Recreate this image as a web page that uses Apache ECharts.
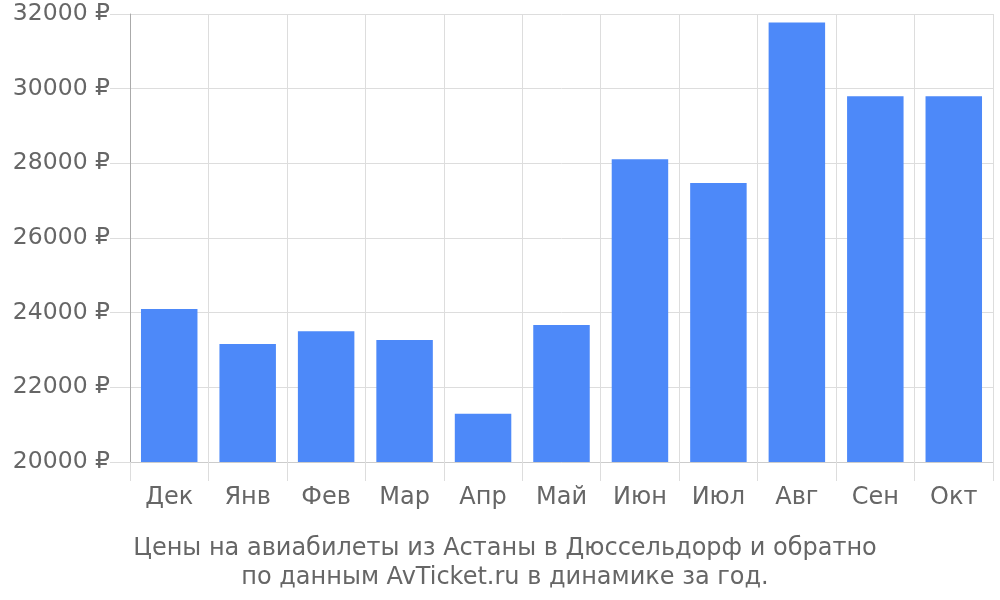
<!DOCTYPE html>
<html><head><meta charset="utf-8">
<script src="https://cdn.jsdelivr.net/npm/echarts@6/dist/echarts.min.js"></script>
<style>html,body{margin:0;padding:0;background:#fff}#c{width:1000px;height:600px}</style>
</head><body><div id="c"></div>
<script>
const categories = ['Дек','Янв','Фев','Мар','Апр','Май','Июн','Июл','Авг','Сен','Окт'];
const prices = [24100, 23160, 23500, 23270, 21290, 23670, 28110, 27470, 31770, 29800, 29800];
const titleLines = ['Цены на авиабилеты из Астаны в Дюссельдорф и обратно','по данным AvTicket.ru в динамике за год.'];
const chart = echarts.init(document.getElementById('c'));
chart.setOption({
  animation:false,
  title:{text:titleLines.join('\n'),left:500,bottom:3,textAlign:'center',
    textStyle:{fontFamily:'DejaVu Sans',fontSize:24,fontWeight:'normal',color:'#666',lineHeight:29}},
  grid:{left:130,right:7,top:14,bottom:138},
  xAxis:{type:'category',data:categories,
    axisLine:{show:true,lineStyle:{color:'#ccc',width:1}},
    axisTick:{show:true,interval:0,length:19,lineStyle:{color:'#ddd'}},
    splitLine:{show:true,interval:0,lineStyle:{color:'#ddd'}},
    axisLabel:{interval:0,margin:24,fontFamily:'DejaVu Sans',fontSize:24,color:'#666'}},
  yAxis:{type:'value',min:20000,max:32000,interval:2000,
    axisLine:{show:true,lineStyle:{color:'#aaa'}},
    axisTick:{show:true,length:20,lineStyle:{color:'#ddd'}},
    splitLine:{show:true,lineStyle:{color:'#ddd'}},
    axisLabel:{margin:20,fontFamily:'DejaVu Sans',fontSize:23.5,color:'#666',formatter:v=>v+' ₽'}},
  series:[{type:'bar',data:prices,barCategoryGap:'28%',itemStyle:{color:'#4d89f9'}}]
});
</script></body></html>
